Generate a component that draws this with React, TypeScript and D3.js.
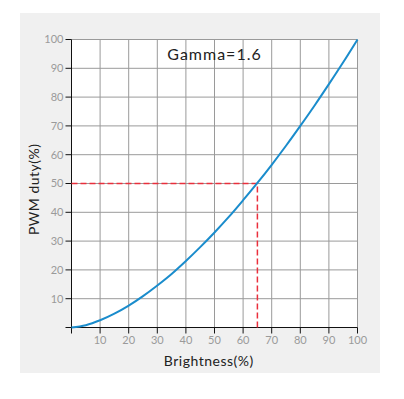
import React from 'react';
import * as d3 from 'd3';

const brightness = [0, 5, 10, 15, 20, 25, 30, 35, 40, 45, 50, 55, 60, 65, 70, 75, 80, 85, 90, 95, 100];
const duty = [0, 0.8, 2.5, 4.8, 7.6, 10.9, 14.6, 18.6, 23.1, 27.9, 33, 38.4, 44.2, 50.2, 56.5, 63.1, 70, 77.1, 84.5, 92.1, 100];
const xTicks = [10, 20, 30, 40, 50, 60, 70, 80, 90, 100];
const yTicks = [10, 20, 30, 40, 50, 60, 70, 80, 90, 100];
const markPoint = { x: 65, y: 50 };

const W = 404;
const H = 399;
const margin = { top: 39.5, right: 46.5, bottom: 71.5, left: 71.5 };

export default function App() {
  const innerW = W - margin.left - margin.right;
  const innerH = H - margin.top - margin.bottom;

  const x = d3.scaleLinear().domain([0, 100]).range([0, innerW]);
  const y = d3.scaleLinear().domain([0, 100]).range([innerH, 0]);

  const pts = brightness.map((b, i) => ({ b, d: duty[i] }));
  const line = d3.line<{ b: number; d: number }>()
    .x(p => x(p.b))
    .y(p => y(p.d))
    .curve(d3.curveMonotoneX);

  const font = "Lato, 'DejaVu Sans', sans-serif";

  return (
    <svg width={W} height={H} style={{ position: 'absolute', left: 0, top: 0 }}>
      <rect x={20} y={13} width={360} height={360} fill="#f0f0f0" />
      <g transform={`translate(${margin.left},${margin.top})`}>
        <rect x={0} y={0} width={innerW} height={innerH} fill="#fff" />
        {xTicks.map(t => (
          <line key={'gx' + t} x1={x(t)} x2={x(t)} y1={0} y2={innerH} stroke="#9a9a9a" strokeWidth={1} />
        ))}
        {yTicks.map(t => (
          <line key={'gy' + t} x1={0} x2={innerW} y1={y(t)} y2={y(t)} stroke="#9a9a9a" strokeWidth={1} />
        ))}
        {/* axes */}
        <line x1={0} x2={0} y1={0} y2={innerH} stroke="#111" strokeWidth={1} />
        <line x1={0} x2={innerW} y1={innerH} y2={innerH} stroke="#111" strokeWidth={1} />
        {[0, ...yTicks].map(t => (
          <line key={'ty' + t} x1={-6} x2={0} y1={y(t)} y2={y(t)} stroke="#111" strokeWidth={1} />
        ))}
        {[0, ...xTicks].map(t => (
          <line key={'tx' + t} x1={x(t)} x2={x(t)} y1={innerH} y2={innerH + 6} stroke="#111" strokeWidth={1} />
        ))}
        {yTicks.map(t => (
          <text key={'ly' + t} x={-8} y={y(t)} dy="0.35em" textAnchor="end" fontSize={11} fill="#9a9a9a" fontFamily={font}>{t}</text>
        ))}
        {xTicks.map(t => (
          <text key={'lx' + t} x={x(t)} y={innerH + 13} dy="0.35em" textAnchor="middle" fontSize={11} fill="#9a9a9a" fontFamily={font}>{t}</text>
        ))}
        {/* marker */}
        <path
          d={`M0,${y(markPoint.y)}H${x(markPoint.x)}V${innerH}`}
          fill="none"
          stroke="#ea2f3c"
          strokeWidth={1.5}
          strokeDasharray="6,3"
        />
        <path d={line(pts) ?? ''} fill="none" stroke="#1a8ccc" strokeWidth={2} />
        <text x={x(50)} y={y(90) - 14} dy="0.35em" textAnchor="middle" fontSize={16} fill="#222" fontFamily={font} letterSpacing={1}>Gamma=1.6</text>
        <text x={x(48)} y={innerH + 34} dy="0.35em" textAnchor="middle" fontSize={14} fill="#222" fontFamily={font} letterSpacing={0.5}>Brightness(%)</text>
        <text transform={`translate(${-37},${y(48)}) rotate(-90)`} dy="0.35em" textAnchor="middle" fontSize={14} fill="#222" fontFamily={font} letterSpacing={0.5}>PWM duty(%)</text>
      </g>
    </svg>
  );
}
